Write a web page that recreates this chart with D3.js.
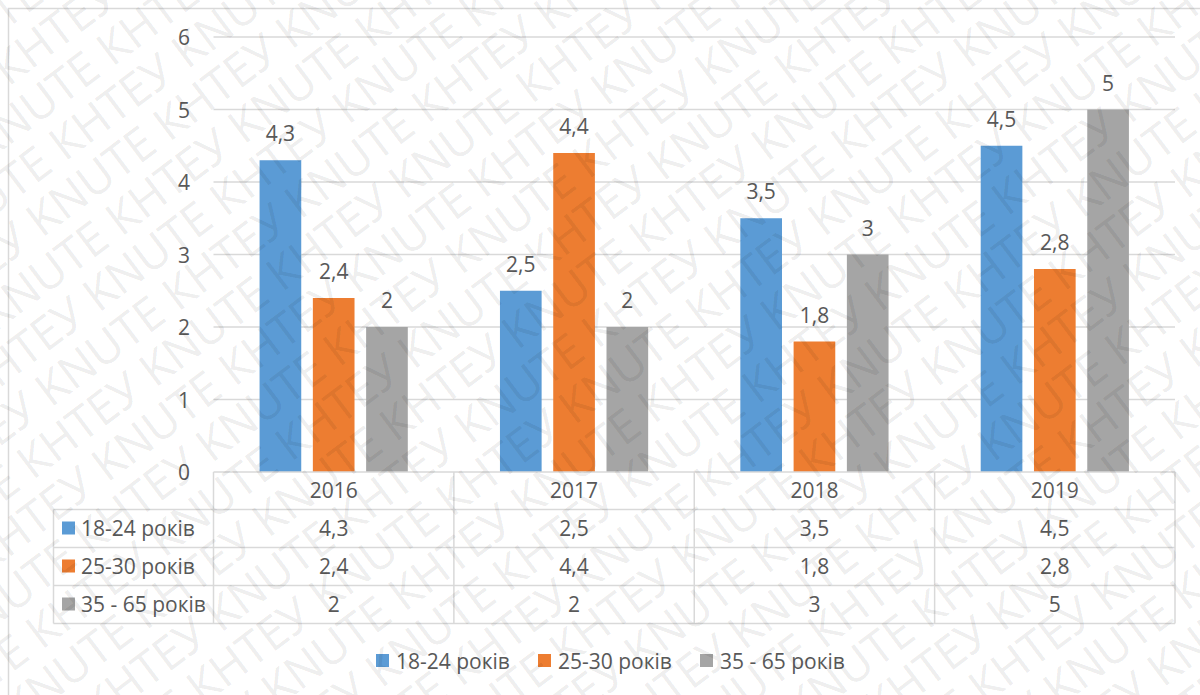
<!DOCTYPE html>
<html>
<head>
<meta charset="utf-8">
<script src="https://cdn.jsdelivr.net/npm/d3@7"></script>
<style>
  html, body { margin: 0; padding: 0; background: #fff; }
  svg { display: block; }
  text { font-family: "Open Sans", sans-serif; }
</style>
</head>
<body>
<svg id="chart" width="1200" height="695"></svg>
<script>
// Chart data
const years = ["2016", "2017", "2018", "2019"];
const seriesNames = ["18-24 років", "25-30 років", "35 - 65 років"];
const values1824 = [4.3, 2.5, 3.5, 4.5];
const values2530 = [2.4, 4.4, 1.8, 2.8];
const values3565 = [2, 2, 3, 5];
const yTicks = [0, 1, 2, 3, 4, 5, 6];
const colors = ["#5B9BD5", "#ED7D31", "#A5A5A5"];

const seriesValues = [values1824, values2530, values3565];
const fmt = v => String(v).replace(".", ",");

const svg = d3.select("#chart");
const W = 1200, H = 695;
const textColor = "#595959";
const lineColor = "#D9D9D9";

// Outer chart frame
svg.append("rect")
  .attr("x", 8.5).attr("y", 8.5)
  .attr("width", 1250).attr("height", 750)
  .attr("fill", "#fff")
  .attr("stroke", lineColor).attr("stroke-width", 1.5);

const plot = { left: 213.5, right: 1175, top: 37, bottom: 472 };

const x0 = d3.scaleBand().domain(years).range([plot.left, plot.right]).paddingInner(0).paddingOuter(0);
const x1 = d3.scaleBand().domain(seriesNames).range([0, x0.bandwidth()]).paddingInner(0.218).paddingOuter(0.865);
const y = d3.scaleLinear().domain([0, 6]).range([plot.bottom, plot.top]);

// Gridlines
svg.append("g").selectAll("line").data(yTicks.filter(t => t > 0)).join("line")
  .attr("x1", plot.left).attr("x2", plot.right)
  .attr("y1", d => y(d)).attr("y2", d => y(d))
  .attr("stroke", lineColor).attr("stroke-width", 1.5);

// Y axis labels
const yAxis = d3.axisLeft(y).tickValues(yTicks).tickSize(0).tickPadding(0).tickFormat(d => d);
const yG = svg.append("g").attr("transform", `translate(190,0)`).call(yAxis);
yG.select(".domain").remove();
yG.selectAll("text")
  .attr("font-family", "'Open Sans', sans-serif")
  .attr("font-size", 21).attr("fill", textColor)
  .attr("dy", "0.36em");

// Bars
const groups = svg.append("g").selectAll("g").data(years).join("g")
  .attr("transform", d => `translate(${x0(d)},0)`);

groups.selectAll("rect")
  .data((yr, i) => seriesNames.map((s, k) => ({ s, k, v: seriesValues[k][i] })))
  .join("rect")
  .attr("x", d => x1(d.s))
  .attr("width", x1.bandwidth())
  .attr("y", d => y(d.v))
  .attr("height", d => y(0) - y(d.v))
  .attr("fill", d => colors[d.k]);

// Data labels
groups.selectAll("text.lbl")
  .data((yr, i) => seriesNames.map((s, k) => ({ s, k, v: seriesValues[k][i] })))
  .join("text")
  .attr("class", "lbl")
  .attr("x", d => x1(d.s) + x1.bandwidth() / 2)
  .attr("y", d => y(d.v) - 19)
  .attr("text-anchor", "middle")
  .attr("font-size", 21).attr("fill", textColor)
  .text(d => fmt(d.v));

// Data table
const rowEdges = [472, 509.5, 547.5, 585.5, 623.5];
const tableLeft = 53.5;
const tg = svg.append("g").attr("stroke", lineColor).attr("stroke-width", 1.5).attr("fill", "none");
// header top border (axis line) and column separators
tg.append("line").attr("x1", plot.left).attr("x2", plot.right).attr("y1", rowEdges[0]).attr("y2", rowEdges[0]);
for (let r = 1; r < rowEdges.length; r++) {
  tg.append("line").attr("x1", tableLeft).attr("x2", plot.right).attr("y1", rowEdges[r]).attr("y2", rowEdges[r]);
}
tg.append("line").attr("x1", tableLeft).attr("x2", tableLeft).attr("y1", rowEdges[1]).attr("y2", rowEdges[4]);
const colEdges = years.map(d => x0(d)).concat([x0(years[years.length - 1]) + x0.bandwidth()]);
colEdges.forEach(cx => {
  tg.append("line").attr("x1", cx).attr("x2", cx).attr("y1", rowEdges[0]).attr("y2", rowEdges[4]);
});

// header years
svg.append("g").selectAll("text").data(years).join("text")
  .attr("x", d => x0(d) + x0.bandwidth() / 2)
  .attr("y", (rowEdges[0] + rowEdges[1]) / 2 + 7.5)
  .attr("text-anchor", "middle").attr("font-size", 21).attr("fill", textColor)
  .text(d => d);

// row headers with colour keys and values
seriesNames.forEach((s, k) => {
  const cy = (rowEdges[k + 1] + rowEdges[k + 2]) / 2;
  svg.append("rect").attr("x", 62).attr("y", cy - 7).attr("width", 13).attr("height", 13).attr("fill", colors[k]);
  svg.append("text").attr("x", 81).attr("y", cy + 7.5).attr("font-size", 21).attr("fill", textColor).text(s);
  svg.append("g").selectAll("text").data(years).join("text")
    .attr("x", d => x0(d) + x0.bandwidth() / 2)
    .attr("y", cy + 7.5)
    .attr("text-anchor", "middle").attr("font-size", 21).attr("fill", textColor)
    .text((d, i) => fmt(seriesValues[k][i]));
});

// Legend
const legendX = [376, 538, 700];
seriesNames.forEach((s, k) => {
  svg.append("rect").attr("x", legendX[k]).attr("y", 654).attr("width", 13).attr("height", 13).attr("fill", colors[k]);
  svg.append("text").attr("x", legendX[k] + 20).attr("y", 668.5).attr("font-size", 21).attr("fill", textColor).text(s);
});

// Diagonal watermark overlay
const wm = svg.append("g")
  .attr("pointer-events", "none")
  .attr("transform", `translate(${W / 2},${H / 2}) rotate(-37)`);
const wmPhrase = "KNUTE КНТЕУ ";
const wmLine = wmPhrase.repeat(14);
for (let i = -16; i <= 16; i++) {
  wm.append("text")
    .attr("x", -1100 + (i % 2 ? 95 : 0))
    .attr("y", i * 47)
    .attr("font-size", 46)
    .attr("font-family", "'Open Sans', sans-serif")
    .attr("fill", "#000")
    .attr("fill-opacity", 0.085)
    .attr("xml:space", "preserve")
    .text(wmLine);
}
</script>
</body>
</html>
